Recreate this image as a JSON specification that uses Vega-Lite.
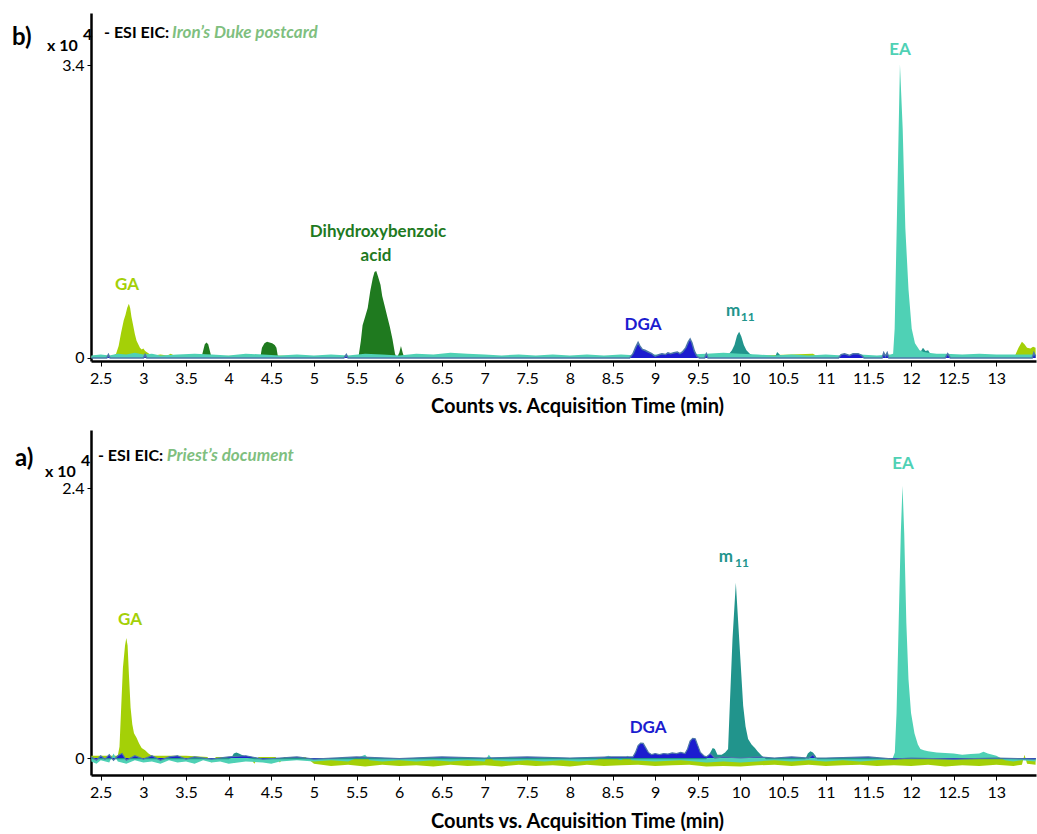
{
  "$schema": "https://vega.github.io/schema/vega-lite/v6.json",
  "padding": {"left": 12, "top": 13, "right": 0, "bottom": 0},
  "background": "white",
  "config": {
    "view": {"stroke": null},
    "font": "Lato",
    "area": {"opacity": 1},
    "axis": {"grid": false, "domainColor": "black", "tickColor": "black", "labelColor": "black", "titleColor": "black", "labelFont": "Lato", "titleFont": "Lato"}
  },
  "datasets": {
    "top": [
      {"s":"GA","t":2.39,"v":0.02},{"s":"GA","t":2.45,"v":0.03},{"s":"GA","t":2.5,"v":0.015},{"s":"GA","t":2.55,"v":0.03},{"s":"GA","t":2.6,"v":0.02},{"s":"GA","t":2.65,"v":0.03},{"s":"GA","t":2.68,"v":0.05},{"s":"GA","t":2.71,"v":0.14},{"s":"GA","t":2.74,"v":0.3},{"s":"GA","t":2.77,"v":0.44},{"s":"GA","t":2.79,"v":0.5},{"s":"GA","t":2.81,"v":0.58},{"s":"GA","t":2.83,"v":0.63},{"s":"GA","t":2.845,"v":0.58},{"s":"GA","t":2.86,"v":0.48},{"s":"GA","t":2.88,"v":0.38},{"s":"GA","t":2.9,"v":0.28},{"s":"GA","t":2.92,"v":0.2},{"s":"GA","t":2.94,"v":0.16},{"s":"GA","t":2.96,"v":0.12},{"s":"GA","t":2.98,"v":0.1},{"s":"GA","t":3.0,"v":0.11},{"s":"GA","t":3.02,"v":0.08},{"s":"GA","t":3.05,"v":0.06},{"s":"GA","t":3.08,"v":0.04},{"s":"GA","t":3.12,"v":0.03},{"s":"GA","t":3.2,"v":0.04},{"s":"GA","t":3.28,"v":0.03},{"s":"GA","t":3.32,"v":0.05},{"s":"GA","t":3.36,"v":0.03},{"s":"GA","t":3.5,"v":0.02},{"s":"GA","t":3.8,"v":0.02},{"s":"GA","t":4.2,"v":0.03},{"s":"GA","t":4.5,"v":0.03},{"s":"GA","t":5.0,"v":0.02},{"s":"GA","t":6.0,"v":0.02},{"s":"GA","t":7.0,"v":0.02},{"s":"GA","t":8.0,"v":0.02},{"s":"GA","t":9.0,"v":0.02},{"s":"GA","t":10.0,"v":0.02},{"s":"GA","t":10.85,"v":0.05},{"s":"GA","t":10.9,"v":0.02},{"s":"GA","t":11.5,"v":0.02},{"s":"GA","t":12.0,"v":0.02},{"s":"GA","t":12.5,"v":0.025},{"s":"GA","t":13.0,"v":0.02},{"s":"GA","t":13.22,"v":0.03},{"s":"GA","t":13.26,"v":0.12},{"s":"GA","t":13.3,"v":0.19},{"s":"GA","t":13.33,"v":0.16},{"s":"GA","t":13.36,"v":0.12},{"s":"GA","t":13.4,"v":0.11},{"s":"GA","t":13.43,"v":0.13},{"s":"GA","t":13.46,"v":0.12},
      {"s":"DHBA","t":2.39,"v":0},{"s":"DHBA","t":3.68,"v":0},{"s":"DHBA","t":3.7,"v":0.08},{"s":"DHBA","t":3.72,"v":0.16},{"s":"DHBA","t":3.74,"v":0.18},{"s":"DHBA","t":3.76,"v":0.16},{"s":"DHBA","t":3.78,"v":0.08},{"s":"DHBA","t":3.8,"v":0},{"s":"DHBA","t":4.37,"v":0},{"s":"DHBA","t":4.39,"v":0.12},{"s":"DHBA","t":4.42,"v":0.17},{"s":"DHBA","t":4.45,"v":0.19},{"s":"DHBA","t":4.48,"v":0.18},{"s":"DHBA","t":4.51,"v":0.17},{"s":"DHBA","t":4.54,"v":0.15},{"s":"DHBA","t":4.56,"v":0.12},{"s":"DHBA","t":4.58,"v":0},{"s":"DHBA","t":5.52,"v":0},{"s":"DHBA","t":5.55,"v":0.2},{"s":"DHBA","t":5.57,"v":0.38},{"s":"DHBA","t":5.6,"v":0.48},{"s":"DHBA","t":5.63,"v":0.58},{"s":"DHBA","t":5.66,"v":0.78},{"s":"DHBA","t":5.69,"v":0.93},{"s":"DHBA","t":5.71,"v":1.0},{"s":"DHBA","t":5.73,"v":1.01},{"s":"DHBA","t":5.75,"v":0.95},{"s":"DHBA","t":5.78,"v":0.85},{"s":"DHBA","t":5.8,"v":0.72},{"s":"DHBA","t":5.83,"v":0.6},{"s":"DHBA","t":5.86,"v":0.48},{"s":"DHBA","t":5.89,"v":0.36},{"s":"DHBA","t":5.92,"v":0.22},{"s":"DHBA","t":5.95,"v":0.05},{"s":"DHBA","t":5.97,"v":0},{"s":"DHBA","t":6.0,"v":0.06},{"s":"DHBA","t":6.02,"v":0.14},{"s":"DHBA","t":6.04,"v":0.06},{"s":"DHBA","t":6.06,"v":0},{"s":"DHBA","t":13.46,"v":0},
      {"s":"DGA","t":2.39,"v":0},{"s":"DGA","t":2.57,"v":0},{"s":"DGA","t":2.59,"v":0.04},{"s":"DGA","t":2.61,"v":0},{"s":"DGA","t":3.0,"v":0},{"s":"DGA","t":3.02,"v":0.04},{"s":"DGA","t":3.04,"v":0},{"s":"DGA","t":5.35,"v":0},{"s":"DGA","t":5.38,"v":0.04},{"s":"DGA","t":5.4,"v":0},{"s":"DGA","t":8.7,"v":0},{"s":"DGA","t":8.74,"v":0.05},{"s":"DGA","t":8.77,"v":0.12},{"s":"DGA","t":8.8,"v":0.18},{"s":"DGA","t":8.82,"v":0.14},{"s":"DGA","t":8.85,"v":0.1},{"s":"DGA","t":8.88,"v":0.09},{"s":"DGA","t":8.92,"v":0.07},{"s":"DGA","t":8.96,"v":0.05},{"s":"DGA","t":9.0,"v":0.02},{"s":"DGA","t":9.05,"v":0.04},{"s":"DGA","t":9.08,"v":0.05},{"s":"DGA","t":9.12,"v":0.04},{"s":"DGA","t":9.15,"v":0.06},{"s":"DGA","t":9.18,"v":0.05},{"s":"DGA","t":9.22,"v":0.06},{"s":"DGA","t":9.26,"v":0.07},{"s":"DGA","t":9.29,"v":0.05},{"s":"DGA","t":9.32,"v":0.07},{"s":"DGA","t":9.36,"v":0.12},{"s":"DGA","t":9.39,"v":0.19},{"s":"DGA","t":9.41,"v":0.22},{"s":"DGA","t":9.43,"v":0.18},{"s":"DGA","t":9.46,"v":0.08},{"s":"DGA","t":9.49,"v":0.02},{"s":"DGA","t":9.52,"v":0},{"s":"DGA","t":9.58,"v":0},{"s":"DGA","t":9.6,"v":0.05},{"s":"DGA","t":9.62,"v":0},{"s":"DGA","t":11.15,"v":0},{"s":"DGA","t":11.18,"v":0.04},{"s":"DGA","t":11.22,"v":0.05},{"s":"DGA","t":11.28,"v":0.03},{"s":"DGA","t":11.32,"v":0.05},{"s":"DGA","t":11.38,"v":0.05},{"s":"DGA","t":11.42,"v":0.03},{"s":"DGA","t":11.45,"v":0},{"s":"DGA","t":11.66,"v":0},{"s":"DGA","t":11.68,"v":0.06},{"s":"DGA","t":11.7,"v":0.02},{"s":"DGA","t":11.72,"v":0.06},{"s":"DGA","t":11.74,"v":0},{"s":"DGA","t":12.4,"v":0},{"s":"DGA","t":12.43,"v":0.05},{"s":"DGA","t":12.46,"v":0},{"s":"DGA","t":13.42,"v":0},{"s":"DGA","t":13.44,"v":0.06},{"s":"DGA","t":13.46,"v":0.02},
      {"s":"m11","t":2.39,"v":0},{"s":"m11","t":9.82,"v":0},{"s":"m11","t":9.86,"v":0.04},{"s":"m11","t":9.9,"v":0.09},{"s":"m11","t":9.93,"v":0.15},{"s":"m11","t":9.96,"v":0.26},{"s":"m11","t":9.985,"v":0.305},{"s":"m11","t":10.01,"v":0.25},{"s":"m11","t":10.04,"v":0.15},{"s":"m11","t":10.07,"v":0.09},{"s":"m11","t":10.11,"v":0.05},{"s":"m11","t":10.16,"v":0.02},{"s":"m11","t":10.2,"v":0},{"s":"m11","t":10.4,"v":0},{"s":"m11","t":10.43,"v":0.07},{"s":"m11","t":10.47,"v":0.03},{"s":"m11","t":10.5,"v":0},{"s":"m11","t":12.08,"v":0},{"s":"m11","t":12.11,"v":0.07},{"s":"m11","t":12.14,"v":0.12},{"s":"m11","t":12.17,"v":0.08},{"s":"m11","t":12.2,"v":0.09},{"s":"m11","t":12.23,"v":0.04},{"s":"m11","t":12.27,"v":0},{"s":"m11","t":13.46,"v":0},
      {"s":"EA","t":2.39,"v":0.03},{"s":"EA","t":2.5,"v":0.04},{"s":"EA","t":2.6,"v":0.03},{"s":"EA","t":2.7,"v":0.05},{"s":"EA","t":2.8,"v":0.04},{"s":"EA","t":2.9,"v":0.06},{"s":"EA","t":3.0,"v":0.04},{"s":"EA","t":3.1,"v":0.05},{"s":"EA","t":3.2,"v":0.03},{"s":"EA","t":3.4,"v":0.04},{"s":"EA","t":3.6,"v":0.05},{"s":"EA","t":3.8,"v":0.04},{"s":"EA","t":4.0,"v":0.03},{"s":"EA","t":4.2,"v":0.05},{"s":"EA","t":4.4,"v":0.04},{"s":"EA","t":4.6,"v":0.03},{"s":"EA","t":4.8,"v":0.04},{"s":"EA","t":5.0,"v":0.03},{"s":"EA","t":5.2,"v":0.04},{"s":"EA","t":5.4,"v":0.03},{"s":"EA","t":5.6,"v":0.05},{"s":"EA","t":5.8,"v":0.04},{"s":"EA","t":6.0,"v":0.03},{"s":"EA","t":6.2,"v":0.05},{"s":"EA","t":6.4,"v":0.04},{"s":"EA","t":6.6,"v":0.06},{"s":"EA","t":6.8,"v":0.05},{"s":"EA","t":7.0,"v":0.04},{"s":"EA","t":7.2,"v":0.03},{"s":"EA","t":7.4,"v":0.04},{"s":"EA","t":7.6,"v":0.03},{"s":"EA","t":7.8,"v":0.04},{"s":"EA","t":8.0,"v":0.03},{"s":"EA","t":8.2,"v":0.04},{"s":"EA","t":8.4,"v":0.03},{"s":"EA","t":8.6,"v":0.04},{"s":"EA","t":8.8,"v":0.03},{"s":"EA","t":9.0,"v":0.04},{"s":"EA","t":9.2,"v":0.03},{"s":"EA","t":9.4,"v":0.04},{"s":"EA","t":9.6,"v":0.05},{"s":"EA","t":9.8,"v":0.06},{"s":"EA","t":10.0,"v":0.05},{"s":"EA","t":10.2,"v":0.04},{"s":"EA","t":10.4,"v":0.03},{"s":"EA","t":10.6,"v":0.04},{"s":"EA","t":10.8,"v":0.03},{"s":"EA","t":11.0,"v":0.04},{"s":"EA","t":11.2,"v":0.03},{"s":"EA","t":11.4,"v":0.04},{"s":"EA","t":11.6,"v":0.03},{"s":"EA","t":11.76,"v":0.04},{"s":"EA","t":11.79,"v":0.05},{"s":"EA","t":11.808,"v":0.34},{"s":"EA","t":11.832,"v":1.51},{"s":"EA","t":11.855,"v":2.67},{"s":"EA","t":11.87,"v":3.41},{"s":"EA","t":11.902,"v":2.67},{"s":"EA","t":11.933,"v":1.51},{"s":"EA","t":11.97,"v":0.8},{"s":"EA","t":12.008,"v":0.34},{"s":"EA","t":12.046,"v":0.17},{"s":"EA","t":12.1,"v":0.09},{"s":"EA","t":12.15,"v":0.07},{"s":"EA","t":12.2,"v":0.06},{"s":"EA","t":12.3,"v":0.05},{"s":"EA","t":12.4,"v":0.05},{"s":"EA","t":12.6,"v":0.04},{"s":"EA","t":12.8,"v":0.05},{"s":"EA","t":13.0,"v":0.04},{"s":"EA","t":13.2,"v":0.04},{"s":"EA","t":13.46,"v":0.04}
    ],
    "bottom": [
      {"s":"GA","t":2.39,"v":0.02},{"s":"GA","t":2.6,"v":0.02},{"s":"GA","t":2.7,"v":0.02},{"s":"GA","t":2.72,"v":0.1},{"s":"GA","t":2.74,"v":0.45},{"s":"GA","t":2.76,"v":0.8},{"s":"GA","t":2.785,"v":1.0},{"s":"GA","t":2.8,"v":1.068},{"s":"GA","t":2.815,"v":1.0},{"s":"GA","t":2.83,"v":0.75},{"s":"GA","t":2.85,"v":0.45},{"s":"GA","t":2.87,"v":0.3},{"s":"GA","t":2.89,"v":0.22},{"s":"GA","t":2.92,"v":0.18},{"s":"GA","t":2.95,"v":0.13},{"s":"GA","t":2.98,"v":0.09},{"s":"GA","t":3.02,"v":0.07},{"s":"GA","t":3.06,"v":0.04},{"s":"GA","t":3.1,"v":0.02},{"s":"GA","t":3.5,"v":0.02},{"s":"GA","t":3.75,"v":0.01},{"s":"GA","t":3.8,"v":-0.04},{"s":"GA","t":3.85,"v":0.01},{"s":"GA","t":4.25,"v":0.01},{"s":"GA","t":4.3,"v":-0.05},{"s":"GA","t":4.35,"v":0.01},{"s":"GA","t":4.55,"v":0.01},{"s":"GA","t":4.6,"v":-0.04},{"s":"GA","t":4.65,"v":0.01},{"s":"GA","t":4.9,"v":0.01},{"s":"GA","t":5.0,"v":-0.05},{"s":"GA","t":5.2,"v":-0.07},{"s":"GA","t":5.4,"v":-0.06},{"s":"GA","t":5.6,"v":-0.075},{"s":"GA","t":5.8,"v":-0.06},{"s":"GA","t":6.0,"v":-0.07},{"s":"GA","t":6.2,"v":-0.065},{"s":"GA","t":6.4,"v":-0.075},{"s":"GA","t":6.6,"v":-0.06},{"s":"GA","t":6.8,"v":-0.07},{"s":"GA","t":7.0,"v":-0.065},{"s":"GA","t":7.2,"v":-0.075},{"s":"GA","t":7.4,"v":-0.06},{"s":"GA","t":7.6,"v":-0.07},{"s":"GA","t":7.8,"v":-0.065},{"s":"GA","t":8.0,"v":-0.075},{"s":"GA","t":8.2,"v":-0.06},{"s":"GA","t":8.4,"v":-0.07},{"s":"GA","t":8.6,"v":-0.065},{"s":"GA","t":8.8,"v":-0.06},{"s":"GA","t":9.0,"v":-0.07},{"s":"GA","t":9.2,"v":-0.065},{"s":"GA","t":9.4,"v":-0.06},{"s":"GA","t":9.6,"v":-0.075},{"s":"GA","t":9.8,"v":-0.07},{"s":"GA","t":10.0,"v":-0.075},{"s":"GA","t":10.2,"v":-0.065},{"s":"GA","t":10.4,"v":-0.06},{"s":"GA","t":10.6,"v":-0.07},{"s":"GA","t":10.8,"v":-0.06},{"s":"GA","t":11.0,"v":-0.07},{"s":"GA","t":11.2,"v":-0.065},{"s":"GA","t":11.4,"v":-0.06},{"s":"GA","t":11.6,"v":-0.07},{"s":"GA","t":11.8,"v":-0.065},{"s":"GA","t":12.0,"v":-0.07},{"s":"GA","t":12.2,"v":-0.06},{"s":"GA","t":12.4,"v":-0.075},{"s":"GA","t":12.6,"v":-0.065},{"s":"GA","t":12.8,"v":-0.07},{"s":"GA","t":13.0,"v":-0.06},{"s":"GA","t":13.2,"v":-0.07},{"s":"GA","t":13.3,"v":-0.06},{"s":"GA","t":13.33,"v":0.03},{"s":"GA","t":13.36,"v":-0.05},{"s":"GA","t":13.46,"v":-0.06},
      {"s":"EA","t":2.39,"v":-0.03},{"s":"EA","t":2.45,"v":-0.05},{"s":"EA","t":2.5,"v":-0.02},{"s":"EA","t":2.6,"v":-0.04},{"s":"EA","t":2.65,"v":0.04},{"s":"EA","t":2.7,"v":-0.03},{"s":"EA","t":2.8,"v":-0.05},{"s":"EA","t":2.9,"v":-0.02},{"s":"EA","t":3.0,"v":-0.04},{"s":"EA","t":3.1,"v":-0.03},{"s":"EA","t":3.2,"v":-0.05},{"s":"EA","t":3.3,"v":-0.02},{"s":"EA","t":3.4,"v":-0.04},{"s":"EA","t":3.5,"v":-0.03},{"s":"EA","t":3.6,"v":-0.05},{"s":"EA","t":3.7,"v":-0.02},{"s":"EA","t":3.8,"v":-0.04},{"s":"EA","t":3.9,"v":-0.03},{"s":"EA","t":4.0,"v":-0.05},{"s":"EA","t":4.2,"v":-0.03},{"s":"EA","t":4.4,"v":-0.04},{"s":"EA","t":4.5,"v":-0.05},{"s":"EA","t":4.6,"v":-0.03},{"s":"EA","t":4.8,"v":-0.02},{"s":"EA","t":5.0,"v":-0.03},{"s":"EA","t":5.2,"v":-0.02},{"s":"EA","t":5.4,"v":-0.03},{"s":"EA","t":5.6,"v":0.03},{"s":"EA","t":5.65,"v":-0.02},{"s":"EA","t":5.8,"v":-0.03},{"s":"EA","t":6.0,"v":-0.02},{"s":"EA","t":6.2,"v":-0.03},{"s":"EA","t":6.4,"v":-0.02},{"s":"EA","t":6.6,"v":-0.03},{"s":"EA","t":6.8,"v":-0.02},{"s":"EA","t":7.0,"v":-0.03},{"s":"EA","t":7.05,"v":0.03},{"s":"EA","t":7.1,"v":-0.02},{"s":"EA","t":7.3,"v":-0.03},{"s":"EA","t":7.5,"v":-0.02},{"s":"EA","t":7.7,"v":-0.03},{"s":"EA","t":7.9,"v":-0.02},{"s":"EA","t":8.1,"v":-0.03},{"s":"EA","t":8.3,"v":-0.02},{"s":"EA","t":8.45,"v":0.02},{"s":"EA","t":8.6,"v":-0.02},{"s":"EA","t":8.68,"v":0.02},{"s":"EA","t":8.72,"v":-0.02},{"s":"EA","t":9.0,"v":-0.03},{"s":"EA","t":9.3,"v":-0.02},{"s":"EA","t":9.6,"v":-0.04},{"s":"EA","t":9.8,"v":-0.03},{"s":"EA","t":10.0,"v":-0.04},{"s":"EA","t":10.2,"v":-0.03},{"s":"EA","t":10.4,"v":-0.02},{"s":"EA","t":10.6,"v":-0.03},{"s":"EA","t":10.8,"v":-0.02},{"s":"EA","t":11.0,"v":-0.03},{"s":"EA","t":11.2,"v":-0.02},{"s":"EA","t":11.4,"v":-0.03},{"s":"EA","t":11.6,"v":-0.02},{"s":"EA","t":11.78,"v":-0.01},{"s":"EA","t":11.81,"v":0.05},{"s":"EA","t":11.83,"v":0.4},{"s":"EA","t":11.855,"v":1.2},{"s":"EA","t":11.88,"v":2.0},{"s":"EA","t":11.9,"v":2.42},{"s":"EA","t":11.92,"v":2.0},{"s":"EA","t":11.945,"v":1.2},{"s":"EA","t":11.97,"v":0.7},{"s":"EA","t":12.0,"v":0.4},{"s":"EA","t":12.04,"v":0.22},{"s":"EA","t":12.08,"v":0.12},{"s":"EA","t":12.11,"v":0.08},{"s":"EA","t":12.15,"v":0.07},{"s":"EA","t":12.2,"v":0.06},{"s":"EA","t":12.3,"v":0.05},{"s":"EA","t":12.4,"v":0.045},{"s":"EA","t":12.5,"v":0.04},{"s":"EA","t":12.6,"v":0.03},{"s":"EA","t":12.7,"v":0.035},{"s":"EA","t":12.8,"v":0.04},{"s":"EA","t":12.85,"v":0.055},{"s":"EA","t":12.9,"v":0.04},{"s":"EA","t":13.0,"v":0.02},{"s":"EA","t":13.1,"v":-0.02},{"s":"EA","t":13.2,"v":-0.03},{"s":"EA","t":13.3,"v":-0.02},{"s":"EA","t":13.46,"v":-0.03},
      {"s":"m11","t":2.39,"v":-0.01},{"s":"m11","t":4.0,"v":-0.01},{"s":"m11","t":4.03,"v":0.0},{"s":"m11","t":4.06,"v":0.04},{"s":"m11","t":4.09,"v":0.05},{"s":"m11","t":4.12,"v":0.04},{"s":"m11","t":4.15,"v":0.03},{"s":"m11","t":4.18,"v":0.02},{"s":"m11","t":4.22,"v":0.0},{"s":"m11","t":4.3,"v":-0.01},{"s":"m11","t":9.6,"v":-0.01},{"s":"m11","t":9.64,"v":0.04},{"s":"m11","t":9.675,"v":0.09},{"s":"m11","t":9.7,"v":0.08},{"s":"m11","t":9.73,"v":0.03},{"s":"m11","t":9.78,"v":0.03},{"s":"m11","t":9.82,"v":0.05},{"s":"m11","t":9.855,"v":0.08},{"s":"m11","t":9.875,"v":0.465},{"s":"m11","t":9.907,"v":1.06},{"s":"m11","t":9.946,"v":1.557},{"s":"m11","t":9.985,"v":1.06},{"s":"m11","t":10.032,"v":0.465},{"s":"m11","t":10.06,"v":0.28},{"s":"m11","t":10.09,"v":0.17},{"s":"m11","t":10.13,"v":0.12},{"s":"m11","t":10.17,"v":0.09},{"s":"m11","t":10.2,"v":0.06},{"s":"m11","t":10.25,"v":0.02},{"s":"m11","t":10.3,"v":-0.01},{"s":"m11","t":10.76,"v":-0.01},{"s":"m11","t":10.79,"v":0.04},{"s":"m11","t":10.82,"v":0.06},{"s":"m11","t":10.85,"v":0.05},{"s":"m11","t":10.88,"v":0.02},{"s":"m11","t":10.9,"v":-0.01},{"s":"m11","t":13.46,"v":-0.01},
      {"s":"DGA","t":2.39,"v":0.01},{"s":"DGA","t":2.45,"v":-0.02},{"s":"DGA","t":2.5,"v":0.02},{"s":"DGA","t":2.55,"v":-0.01},{"s":"DGA","t":2.6,"v":0.03},{"s":"DGA","t":2.65,"v":-0.02},{"s":"DGA","t":2.7,"v":0.02},{"s":"DGA","t":2.75,"v":0.04},{"s":"DGA","t":2.8,"v":-0.02},{"s":"DGA","t":2.9,"v":0.02},{"s":"DGA","t":3.0,"v":-0.01},{"s":"DGA","t":3.1,"v":0.02},{"s":"DGA","t":3.2,"v":-0.02},{"s":"DGA","t":3.3,"v":0.01},{"s":"DGA","t":3.4,"v":0.02},{"s":"DGA","t":3.5,"v":-0.01},{"s":"DGA","t":3.6,"v":0.01},{"s":"DGA","t":3.8,"v":-0.01},{"s":"DGA","t":4.0,"v":0.01},{"s":"DGA","t":4.2,"v":0.02},{"s":"DGA","t":4.4,"v":-0.01},{"s":"DGA","t":4.6,"v":0.0},{"s":"DGA","t":4.8,"v":0.01},{"s":"DGA","t":5.0,"v":-0.01},{"s":"DGA","t":5.5,"v":0.01},{"s":"DGA","t":6.0,"v":-0.005},{"s":"DGA","t":6.5,"v":0.01},{"s":"DGA","t":7.0,"v":0.0},{"s":"DGA","t":7.5,"v":0.01},{"s":"DGA","t":8.0,"v":0.0},{"s":"DGA","t":8.5,"v":0.01},{"s":"DGA","t":8.74,"v":0.01},{"s":"DGA","t":8.77,"v":0.05},{"s":"DGA","t":8.8,"v":0.11},{"s":"DGA","t":8.83,"v":0.133},{"s":"DGA","t":8.86,"v":0.13},{"s":"DGA","t":8.89,"v":0.09},{"s":"DGA","t":8.92,"v":0.05},{"s":"DGA","t":8.96,"v":0.03},{"s":"DGA","t":9.0,"v":0.04},{"s":"DGA","t":9.05,"v":0.03},{"s":"DGA","t":9.1,"v":0.04},{"s":"DGA","t":9.15,"v":0.035},{"s":"DGA","t":9.2,"v":0.045},{"s":"DGA","t":9.25,"v":0.04},{"s":"DGA","t":9.3,"v":0.05},{"s":"DGA","t":9.35,"v":0.04},{"s":"DGA","t":9.38,"v":0.08},{"s":"DGA","t":9.41,"v":0.15},{"s":"DGA","t":9.44,"v":0.175},{"s":"DGA","t":9.47,"v":0.17},{"s":"DGA","t":9.5,"v":0.11},{"s":"DGA","t":9.53,"v":0.05},{"s":"DGA","t":9.57,"v":0.02},{"s":"DGA","t":9.6,"v":0.01},{"s":"DGA","t":9.65,"v":0.04},{"s":"DGA","t":9.7,"v":0.0},{"s":"DGA","t":9.8,"v":0.01},{"s":"DGA","t":10.0,"v":0.0},{"s":"DGA","t":10.2,"v":0.01},{"s":"DGA","t":10.4,"v":0.0},{"s":"DGA","t":10.6,"v":0.01},{"s":"DGA","t":10.8,"v":0.0},{"s":"DGA","t":10.85,"v":0.03},{"s":"DGA","t":10.88,"v":0.0},{"s":"DGA","t":11.0,"v":0.0},{"s":"DGA","t":11.5,"v":0.01},{"s":"DGA","t":11.8,"v":-0.01},{"s":"DGA","t":12.0,"v":0.0},{"s":"DGA","t":12.5,"v":-0.01},{"s":"DGA","t":13.0,"v":0.0},{"s":"DGA","t":13.46,"v":-0.01}
    ]
  },
  "spacing": 69,
  "bounds": "flush",
  "vconcat": [
    {
      "width": 945,
      "height": 348,
      "encoding": {
        "x": {"field": "t", "type": "quantitative", "scale": {"domain": [2.386, 13.465], "nice": false, "zero": false},
          "axis": {"title": "Counts vs. Acquisition Time (min)", "values": [2.5,3,3.5,4,4.5,5,5.5,6,6.5,7,7.5,8,8.5,9,9.5,10,10.5,11,11.5,12,12.5,13], "format": "~g", "labelFontSize": 16, "titleFontSize": 20, "titleFontWeight": "bold", "domainWidth": 2.5, "tickSize": 5, "tickWidth": 1, "labelPadding": 4, "titlePadding": 10, "titleX": 486}},
        "y": {"field": "v", "type": "quantitative", "stack": null, "scale": {"domain": [-0.035, 4.01], "nice": false, "zero": false},
          "axis": {"title": null, "values": [0, 3.4], "labelExpr": "datum.value == 0 ? '0' : format(datum.value, '.1f')", "labelFontSize": 16, "domainWidth": 2.5, "tickSize": 4, "tickWidth": 1, "labelPadding": 3}}
      },
      "layer": [
        {"data": {"name": "top"}, "transform": [{"filter": "datum.s === 'GA'"}], "mark": {"type": "area", "color": "#a4d007", "opacity": 1}},
        {"data": {"name": "top"}, "transform": [{"filter": "datum.s === 'DHBA'"}], "mark": {"type": "area", "color": "#1f7a1f", "opacity": 1}},
        {"data": {"name": "top"}, "transform": [{"filter": "datum.s === 'm11'"}], "mark": {"type": "area", "color": "#21948c", "opacity": 1}},
        {"data": {"name": "top"}, "transform": [{"filter": "datum.s === 'EA'"}], "mark": {"type": "area", "color": "#4fd1b5", "opacity": 1}},
        {"data": {"name": "top"}, "transform": [{"filter": "datum.s === 'DGA'"}], "mark": {"type": "area", "color": "#1c1ccf", "opacity": 1, "line": {"strokeWidth": 1.5, "opacity": 1}}},
        {"data": {"values": [{}]}, "mark": {"type": "rule", "color": "black", "strokeWidth": 2.5}, "encoding": {"x": {"datum": 2.386}, "x2": {"datum": 13.465}, "y": {"datum": 4.01}}},
        {"data": {"values": [
            {"t": 2.809, "v": 0.843, "label": "GA", "compound": "GA"},
            {"t": 5.751, "v": 1.459, "label": "Dihydroxybenzoic", "compound": "DHBA"},
            {"t": 5.727, "v": 1.18, "label": "acid", "compound": "DHBA"},
            {"t": 8.858, "v": 0.378, "label": "DGA", "compound": "DGA"},
            {"t": 9.914, "v": 0.546, "label": "m", "compound": "m11"},
            {"t": 11.87, "v": 3.58, "label": "EA", "compound": "EA"}
          ]},
          "mark": {"type": "text", "fontWeight": "bold", "fontSize": 17, "align": "center", "baseline": "middle"},
          "encoding": {"text": {"field": "label"}, "color": {"field": "compound", "type": "nominal", "legend": null, "scale": {"domain": ["GA", "DHBA", "DGA", "m11", "EA"], "range": ["#a4d007", "#1f7a1f", "#1c1ccf", "#21948c", "#4fd1b5"]}}}},
        {"data": {"values": [{"t": 10.003, "v": 0.482, "label": "11", "compound": "m11"}]},
          "mark": {"type": "text", "fontWeight": "bold", "fontSize": 12, "align": "left", "baseline": "middle", "color": "#21948c"},
          "encoding": {"text": {"field": "label"}}},
        {"data": {"values": [{"t": 1.46, "v": 3.714, "label": "b)"}]},
          "mark": {"type": "text", "fontWeight": "bold", "fontSize": 24, "align": "left", "baseline": "middle", "color": "black"},
          "encoding": {"text": {"field": "label"}}},
        {"data": {"values": [
            {"t": 1.87, "v": 3.632, "label": "x 10"},
            {"t": 2.291, "v": 3.76, "label": "4"},
            {"t": 2.539, "v": 3.772, "label": "- ESI EIC:"}
          ]},
          "mark": {"type": "text", "fontWeight": "bold", "fontSize": 16, "align": "left", "baseline": "middle", "color": "black"},
          "encoding": {"text": {"field": "label"}}},
        {"data": {"values": [{"t": 3.336, "v": 3.772, "label": "Iron’s Duke postcard"}]},
          "mark": {"type": "text", "fontWeight": "bold", "fontStyle": "italic", "fontSize": 17, "align": "left", "baseline": "middle", "color": "#7fbf7f"},
          "encoding": {"text": {"field": "label"}}}
      ]
    },
    {
      "width": 945,
      "height": 345,
      "encoding": {
        "x": {"field": "t", "type": "quantitative", "scale": {"domain": [2.386, 13.465], "nice": false, "zero": false},
          "axis": {"title": "Counts vs. Acquisition Time (min)", "values": [2.5,3,3.5,4,4.5,5,5.5,6,6.5,7,7.5,8,8.5,9,9.5,10,10.5,11,11.5,12,12.5,13], "format": "~g", "labelFontSize": 16, "titleFontSize": 20, "titleFontWeight": "bold", "domainWidth": 2.5, "tickSize": 5, "tickWidth": 1, "labelPadding": 4, "titlePadding": 11, "titleX": 486}},
        "y": {"field": "v", "type": "quantitative", "stack": null, "scale": {"domain": [-0.151, 2.916], "nice": false, "zero": false},
          "axis": {"title": null, "values": [0, 2.4], "labelExpr": "datum.value == 0 ? '0' : format(datum.value, '.1f')", "labelFontSize": 16, "domainWidth": 2.5, "tickSize": 4, "tickWidth": 1, "labelPadding": 3}}
      },
      "layer": [
        {"data": {"name": "bottom"}, "transform": [{"filter": "datum.s === 'GA'"}], "mark": {"type": "area", "color": "#a4d007", "opacity": 1}},
        {"data": {"name": "bottom"}, "transform": [{"filter": "datum.s === 'EA'"}], "mark": {"type": "area", "color": "#4fd1b5", "opacity": 1}},
        {"data": {"name": "bottom"}, "transform": [{"filter": "datum.s === 'm11'"}], "mark": {"type": "area", "color": "#21948c", "opacity": 1}},
        {"data": {"name": "bottom"}, "transform": [{"filter": "datum.s === 'DGA'"}], "mark": {"type": "area", "color": "#1c1ccf", "opacity": 1, "line": {"strokeWidth": 1.2, "opacity": 1}}},
        {"data": {"values": [{}]}, "mark": {"type": "rule", "color": "black", "strokeWidth": 2.5}, "encoding": {"x": {"datum": 2.386}, "x2": {"datum": 13.465}, "y": {"datum": 2.916}}},
        {"data": {"values": [
            {"t": 2.844, "v": 1.227, "label": "GA", "compound": "GA"},
            {"t": 8.918, "v": 0.271, "label": "DGA", "compound": "DGA"},
            {"t": 9.83, "v": 1.791, "label": "m", "compound": "m11"},
            {"t": 11.905, "v": 2.613, "label": "EA", "compound": "EA"}
          ]},
          "mark": {"type": "text", "fontWeight": "bold", "fontSize": 17, "align": "center", "baseline": "middle"},
          "encoding": {"text": {"field": "label"}, "color": {"field": "compound", "type": "nominal", "legend": null, "scale": {"domain": ["GA", "DHBA", "DGA", "m11", "EA"], "range": ["#a4d007", "#1f7a1f", "#1c1ccf", "#21948c", "#4fd1b5"]}}}},
        {"data": {"values": [{"t": 9.936, "v": 1.733, "label": "11", "compound": "m11"}]},
          "mark": {"type": "text", "fontWeight": "bold", "fontSize": 12, "align": "left", "baseline": "middle", "color": "#21948c"},
          "encoding": {"text": {"field": "label"}}},
        {"data": {"values": [{"t": 1.495, "v": 2.658, "label": "a)"}]},
          "mark": {"type": "text", "fontWeight": "bold", "fontSize": 24, "align": "left", "baseline": "middle", "color": "black"},
          "encoding": {"text": {"field": "label"}}},
        {"data": {"values": [
            {"t": 1.847, "v": 2.542, "label": "x 10"},
            {"t": 2.269, "v": 2.64, "label": "4"},
            {"t": 2.468, "v": 2.684, "label": "- ESI EIC:"}
          ]},
          "mark": {"type": "text", "fontWeight": "bold", "fontSize": 16, "align": "left", "baseline": "middle", "color": "black"},
          "encoding": {"text": {"field": "label"}}},
        {"data": {"values": [{"t": 3.274, "v": 2.684, "label": "Priest’s document"}]},
          "mark": {"type": "text", "fontWeight": "bold", "fontStyle": "italic", "fontSize": 17, "align": "left", "baseline": "middle", "color": "#7fbf7f"},
          "encoding": {"text": {"field": "label"}}}
      ]
    }
  ]
}
